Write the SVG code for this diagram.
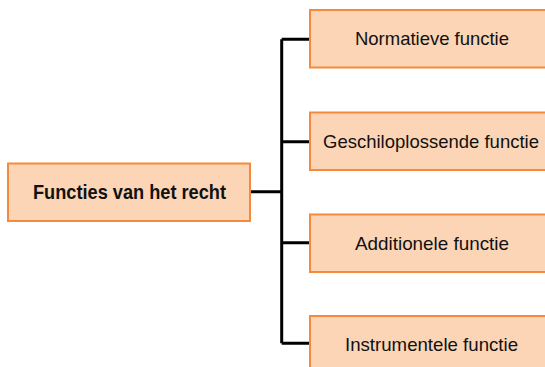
<svg xmlns="http://www.w3.org/2000/svg" width="545" height="367" viewBox="0 0 545 367">
<style>
.box{fill:#FBD5B5;stroke:#F58A3C;stroke-width:2}
.t{font-family:"Liberation Sans",Arial,sans-serif;font-size:19px;fill:#111;text-anchor:middle}
.b{font-weight:bold;font-size:21px}
.c{fill:none;stroke:#000;stroke-width:3}
</style>
<rect width="545" height="367" fill="#fff"/>
<g id="connectors">
<path class="c" d="M250,191.7H281.7M281.7,39.3V343.3M281.7,39.3H310M281.7,141.7H310M281.7,242.7H310M281.7,343.3H310"/>
</g>
<g id="root">
<rect class="box" x="8" y="163.5" width="242" height="57.5"/>
<text class="t b" x="129.5" y="199.3" textLength="193" lengthAdjust="spacingAndGlyphs">Functies van het recht</text>
</g>
<g id="n1">
<rect class="box" x="310" y="10" width="244" height="57.5"/>
<text class="t" x="432" y="45.3" textLength="154" lengthAdjust="spacingAndGlyphs">Normatieve functie</text>
</g>
<g id="n2">
<rect class="box" x="310" y="112.5" width="244" height="57.5"/>
<text class="t" x="431" y="148" textLength="216" lengthAdjust="spacingAndGlyphs">Geschiloplossende functie</text>
</g>
<g id="n3">
<rect class="box" x="310" y="214.5" width="244" height="57.5"/>
<text class="t" x="432" y="249.5" textLength="154" lengthAdjust="spacingAndGlyphs">Additionele functie</text>
</g>
<g id="n4">
<rect class="box" x="310" y="316" width="244" height="57.5"/>
<text class="t" x="431.5" y="351" textLength="173" lengthAdjust="spacingAndGlyphs">Instrumentele functie</text>
</g>
</svg>
